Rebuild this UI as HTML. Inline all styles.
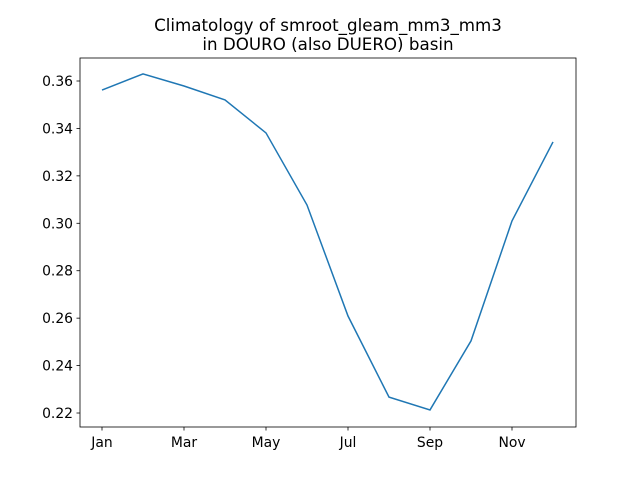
<!DOCTYPE html>
<html><head><meta charset="utf-8"><style>
body{margin:0;background:#fff;}
svg text{font-family:"DejaVu Sans","Liberation Sans",sans-serif;}
</style></head><body>
<svg id="chart" width="640" height="480" xmlns="http://www.w3.org/2000/svg">
<rect width="640" height="480" fill="#fff"/>
<text x="328" y="31" font-size="16.7" text-anchor="middle">Climatology of smroot_gleam_mm3_mm3</text>
<text x="328" y="50" font-size="16.7" text-anchor="middle">in DOURO (also DUERO) basin</text>
<g id="ticks"></g>
<polyline id="line" fill="none" stroke="#1f77b4" stroke-width="1.5"/>
<rect x="80" y="58" width="496" height="369" fill="none" stroke="#000" stroke-width="0.8"/>
</svg>
<script>
const months = ["Jan","Feb","Mar","Apr","May","Jun","Jul","Aug","Sep","Oct","Nov","Dec"];
const values = [0.3562,0.3630,0.3579,0.3520,0.3381,0.3077,0.2609,0.2267,0.2213,0.2504,0.3010,0.3343];
const yTicks = [0.22,0.24,0.26,0.28,0.30,0.32,0.34,0.36];
const xTickIdx = [0,2,4,6,8,10];
const NS="http://www.w3.org/2000/svg";
const x = i => 102 + i*41;
const y = v => 81 + (0.36 - v)/0.02*47.43;
const g = document.getElementById('ticks');
function mk(tag, attrs, txt){const e=document.createElementNS(NS,tag);for(const k in attrs)e.setAttribute(k,attrs[k]);if(txt!==undefined)e.textContent=txt;g.appendChild(e);return e;}
yTicks.forEach(t=>{
  const yy=y(t);
  const l=mk('line',{x1:76.5,x2:80,y1:yy,y2:yy,stroke:'#000','stroke-width':0.8});
  
  
  const tx=mk('text',{x:73,y:yy+5,'font-size':13.9,'text-anchor':'end'},t.toFixed(2));
  
  
});
xTickIdx.forEach(i=>{
  const xx=x(i);
  const l=mk('line',{x1:xx,x2:xx,y1:427,y2:430.5,stroke:'#000','stroke-width':0.8});
  
  
  const tx=mk('text',{x:xx,y:447,'font-size':13.9,'text-anchor':'middle'},months[i]);
  
  
});
document.getElementById('line').setAttribute('points',values.map((v,i)=>x(i)+','+y(v)).join(' '));
</script>
</body></html>
